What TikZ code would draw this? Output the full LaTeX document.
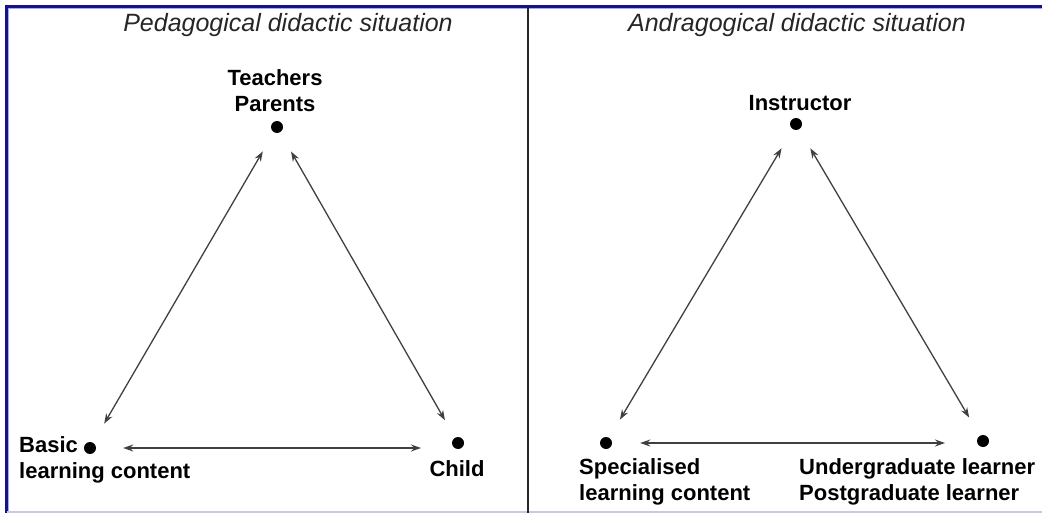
\documentclass[tikz,border=0pt]{standalone}
\usepackage{fontspec}
\setmainfont{Liberation Sans}
\usetikzlibrary{calc,arrows.meta}
\definecolor{framenavy}{RGB}{20,20,130}
\definecolor{framelav}{RGB}{200,200,235}

\begin{document}
\begin{tikzpicture}[x=1pt, y=-1pt,
    dot/.style={circle, fill=black, inner sep=0pt, minimum size=12pt},
    lbl/.style={font=\fontsize{22}{26}\selectfont\bfseries, inner sep=0pt},
    ttl/.style={font=\fontsize{25}{30}\selectfont\itshape, inner sep=0pt, text=black!85},
    arr/.style={{Stealth[length=10pt,width=7pt]}-{Stealth[length=10pt,width=7pt]},
                line width=1.3pt, draw=black!75}]
    \useasboundingbox (0,0) rectangle (1042,513);

    % Frame and divider
    \draw[framenavy, line width=2.5pt] (6.5,513) -- (6.5,6.5) -- (1042,6.5);
    \draw[blue!35, line width=0.8pt] (8.8,513) -- (8.8,8.8) -- (1042,8.8);
    \draw[framelav, line width=1.5pt] (6.5,512) -- (1042,512);
    \draw[black!85, line width=2pt] (528,7.5) -- (528,513);

    % Titles
    \node[ttl] (pedt) at (288,25) {Pedagogical didactic situation};
    \node[ttl] (andt) at (797,25) {Andragogical didactic situation};

    % Pedagogical triangle
    \node[dot] (TP) at (277,127) {};
    \node[dot] (B)  at (90,448)  {};
    \node[dot] (C)  at (458,443) {};

    \node[lbl, align=center] (TPl) at ($(TP)+(-2,-36)$) {Teachers\\Parents};
    \node[lbl, align=left, anchor=west] (Bl) at ($(B)+(-71,12)$) {Basic\\learning content};
    \node[lbl] (Cl) at ($(C)+(-1,26)$) {Child};

    \draw[arr, shorten <=22pt, shorten >=22pt] (TP) -- (B);
    \draw[arr, shorten <=22pt, shorten >=20pt] (TP) -- (C);
    \draw[arr, shorten <=27pt, shorten >=37pt] (B) -- (B -| C);

    % Andragogical triangle
    \node[dot] (I) at (796,124) {};
    \node[dot] (S) at (606,443) {};
    \node[dot] (U) at (983,441) {};

    \node[lbl] (Il) at ($(I)+(4,-21)$) {Instructor};
    \node[lbl, align=left, anchor=west] (Sl) at ($(S)+(-27,39)$) {Specialised\\learning content};
    \node[lbl, align=left, anchor=west] (Ul) at ($(U)+(-184,41)$) {Undergraduate learner\\Postgraduate learner};

    \draw[arr, shorten <=22pt, shorten >=21pt] (I) -- (S);
    \draw[arr, shorten <=22pt, shorten >=21pt] (I) -- (U);
    \draw[arr, shorten <=28pt, shorten >=38pt] (S) -- (S -| U);
\end{tikzpicture}
\end{document}
